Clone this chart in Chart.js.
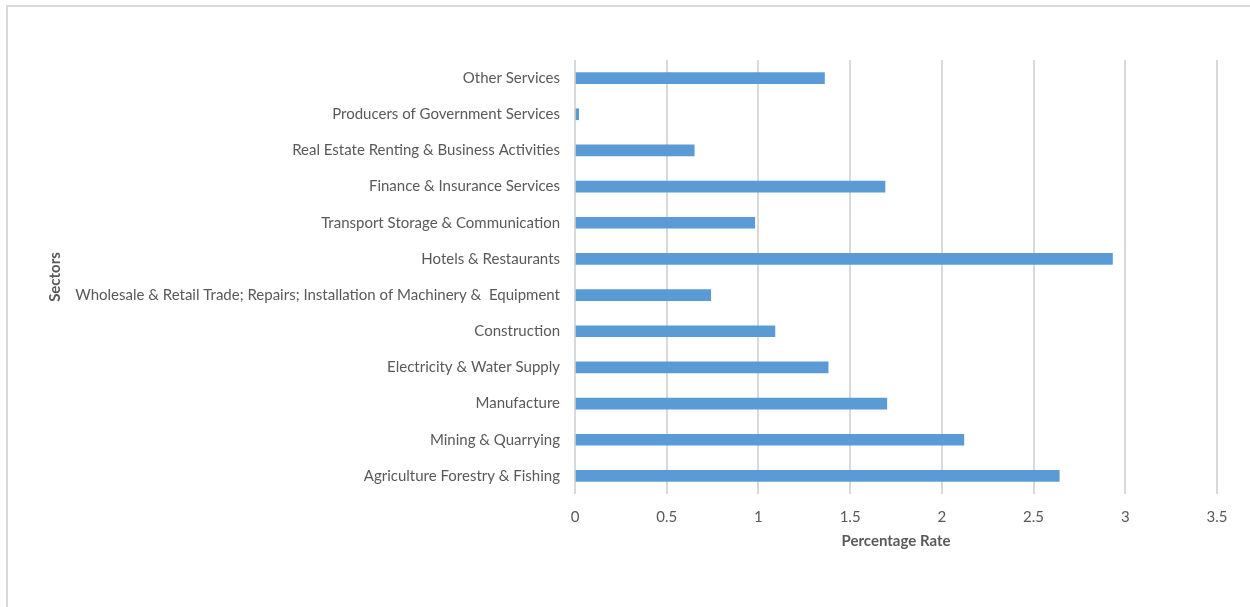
<!DOCTYPE html>
<html>
<head>
<meta charset="utf-8">
<script src="https://cdn.jsdelivr.net/npm/chart.js@4.4.0/dist/chart.umd.min.js"></script>
<style>
  html, body { margin: 0; padding: 0; background: #fff; overflow: hidden; }
  #wrap { position: relative; width: 1250px; height: 607px; }
  #frame { position: absolute; left: 6px; top: 5px; width: 1260px; height: 620px; border: 2px solid #d9d9d9; box-sizing: border-box; }
  #chart { position: absolute; left: 0; top: 0; }
</style>
</head>
<body>
<div id="wrap">
  <div id="frame"></div>
  <canvas id="chart" width="1250" height="607"></canvas>
</div>
<script>
// sectors, top to bottom as shown
const sectors = [
  'Other Services',
  'Producers of Government Services',
  'Real Estate Renting & Business Activities',
  'Finance & Insurance Services',
  'Transport Storage & Communication',
  'Hotels & Restaurants',
  'Wholesale & Retail Trade; Repairs; Installation of Machinery &  Equipment',
  'Construction',
  'Electricity & Water Supply',
  'Manufacture',
  'Mining & Quarrying',
  'Agriculture Forestry & Fishing'
];
const rates = [1.36, 0.02, 0.65, 1.69, 0.98, 2.93, 0.74, 1.09, 1.38, 1.70, 2.12, 2.64];
const xTicks = [0, 0.5, 1, 1.5, 2, 2.5, 3, 3.5];

const textColor = '#595959';
const gridColor = '#d9d9d9';
const fontFamily = 'Lato, "Open Sans", sans-serif';

const ctx = document.getElementById('chart').getContext('2d');
new Chart(ctx, {
  type: 'bar',
  data: {
    labels: sectors,
    datasets: [{ data: rates, backgroundColor: '#5b9bd5', barThickness: 11 }]
  },
  options: {
    indexAxis: 'y',
    responsive: false,
    animation: false,
    layout: { padding: { left: 42, right: 33, top: 60, bottom: 57 } },
    plugins: { legend: { display: false }, tooltip: { enabled: false } },
    scales: {
      x: {
        min: xTicks[0],
        max: xTicks[xTicks.length - 1],
        afterBuildTicks: (scale) => { scale.ticks = xTicks.map(v => ({ value: v })); },
        afterFit: (scale) => { scale.height = 56; },
        grid: { color: gridColor, lineWidth: 2, drawTicks: false },
        border: { display: false },
        ticks: { color: textColor, padding: 14, font: { family: fontFamily, size: 15 }, callback: (v) => String(v) },
        title: { display: true, text: 'Percentage Rate', color: textColor, padding: { top: 8, bottom: 0 }, font: { family: fontFamily, size: 15, weight: 'bold' } }
      },
      y: {
        grid: { display: false },
        border: { display: false },
        afterFit: (scale) => { scale.width = 533; },
        ticks: { color: textColor, padding: 7, font: { family: fontFamily, size: 15 } },
        title: { display: true, text: 'Sectors', color: textColor, padding: { top: 4, bottom: 0 }, font: { family: fontFamily, size: 15, weight: 'bold' } }
      }
    }
  }
});
</script>
</body>
</html>
